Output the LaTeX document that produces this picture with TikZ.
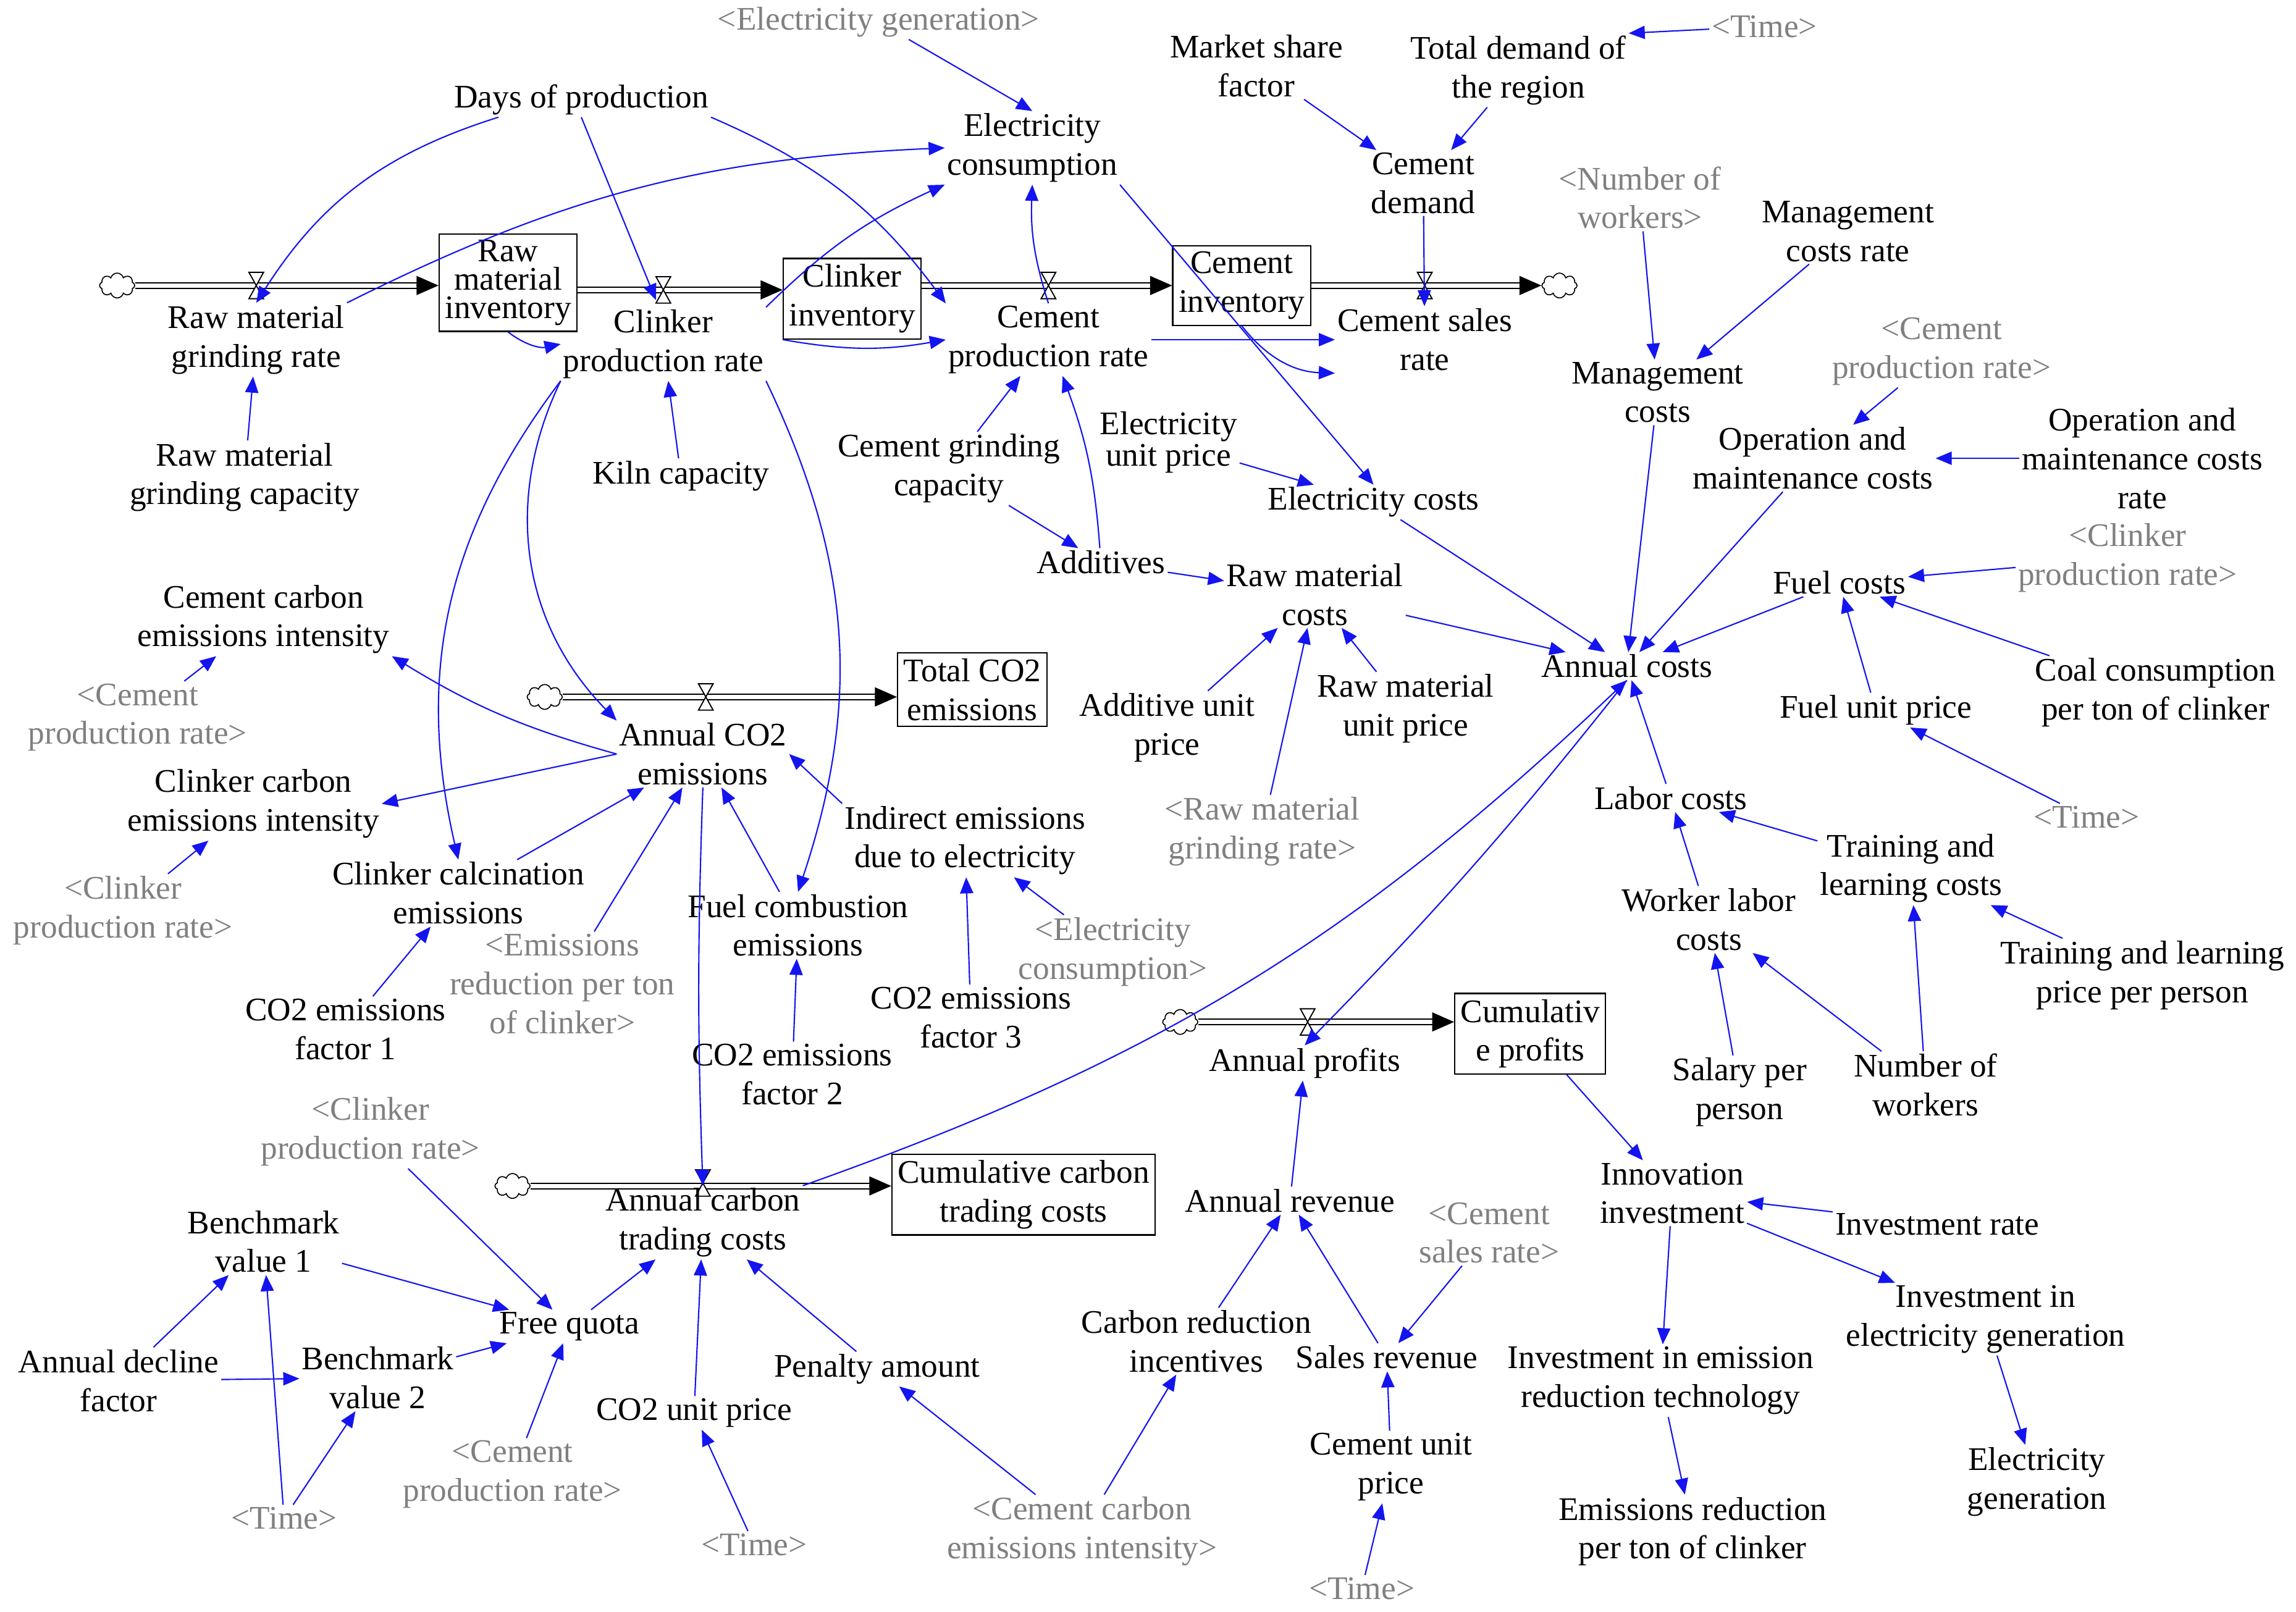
\documentclass[tikz,border=0pt]{standalone}
\usepackage{fontspec}
\setmainfont{Liberation Serif}
\usetikzlibrary{arrows.meta,shapes.symbols,calc}
\definecolor{vgray}{RGB}{128,128,128}
\definecolor{vblue}{RGB}{20,20,240}
\begin{document}
\begin{tikzpicture}[x=1pt,y=1pt,
  every node/.style={align=center,inner sep=1.5pt,font=\fontsize{22.5}{26.5}\selectfont},
  sh/.style={text=vgray},
  st/.style={draw,line width=0.9pt,inner sep=4pt},
  cl/.style={cloud,draw,cloud puffs=8,minimum width=24pt,minimum height=17pt,inner sep=0pt,line width=0.7pt},
  a/.style={draw=vblue,line width=0.9pt,-{Triangle[length=11pt,width=9pt]},fill=none},
  pipe/.style={double,double distance=3pt,line width=0.8pt,shorten >=13pt},
  tip/.style={-{Triangle[length=15pt,width=13pt]},line width=0.8pt},
  valve/.pic={\draw[fill=white,line width=0.8pt] (-5,9)--(5,9)--(-5,-9)--(5,-9)--cycle;}
]
\useasboundingbox (0,0) rectangle (1568,-1101);
% stocks
\node[st] (rmi) at (347,-193) {Raw\\[-7pt]material\\[-7pt]inventory};
\node[st] (ci) at (582,-204) {Clinker\\inventory};
\node[st] (cinv) at (848,-195) {Cement\\inventory};
\node[st] (tco2) at (664,-471) {Total CO2\\emissions};
\node[st] (cp) at (1045,-706) {Cumulativ\\e profits};
\node[st] (cctc) at (699,-816) {Cumulative carbon\\trading costs};
% clouds
\node[cl] (c1) at (80,-195) {};
\node[cl] (c4) at (1065,-195) {};
\node[cl] (c5) at (372,-476) {};
\node[cl] (c6) at (806,-698) {};
\node[cl] (c7) at (350,-810) {};
\coordinate (v2) at (448,-205);
% pipes
\draw[pipe] (c1) -- (rmi.west|-c1); \draw[tip] ($(rmi.west|-c1)+(-15,0)$) -- (rmi.west|-c1);
\draw[pipe] (rmi.east|-0,-198) -- (ci.west|-0,-198); \draw[tip] ($(ci.west|-0,-198)+(-15,0)$) -- (ci.west|-0,-198);
\draw[pipe] (ci.east|-0,-195) -- (cinv.west|-0,-195); \draw[tip] ($(cinv.west|-0,-195)+(-15,0)$) -- (cinv.west|-0,-195);
\draw[pipe] (cinv.east|-0,-195) -- (c4.west); \draw[tip] ($(c4.west)+(-15,0)$) -- (c4.west);
\draw[pipe] (c5) -- (tco2.west|-c5); \draw[tip] ($(tco2.west|-c5)+(-15,0)$) -- (tco2.west|-c5);
\draw[pipe] (c6) -- (cp.west|-c6); \draw[tip] ($(cp.west|-c6)+(-15,0)$) -- (cp.west|-c6);
\draw[pipe] (c7) -- (cctc.west|-c7); \draw[tip] ($(cctc.west|-c7)+(-15,0)$) -- (cctc.west|-c7);
\pic at (175,-195) {valve};
\pic at (453,-198) {valve};
\pic at (716,-195) {valve};
\pic at (973,-195) {valve};
\pic at (482,-476) {valve};
\pic at (893,-698) {valve};
\pic at (480,-808) {valve};
% variables
\node (dop) at (397,-68) {Days of production};
\node (ec) at (705,-101) {Electricity\\consumption};
\node[sh] (egg) at (600,-15) {<Electricity generation>};
\node (msf) at (858,-45) {Market share\\factor};
\node (tdr) at (1037,-48) {Total demand of\\the region};
\node[sh] (t1) at (1205,-18) {<Time>};
\node (cd) at (972,-125) {Cement\\demand};
\node[sh] (nowg) at (1120,-135) {<Number of\\workers>};
\node (mcr) at (1262,-158) {Management\\costs rate};
\node (rmgr) at (175,-232) {Raw material\\grinding rate};
\node (cpr) at (453,-235) {Clinker\\production rate};
\node (cepr) at (716,-232) {Cement\\production rate};
\node (csr) at (973,-232) {Cement sales\\rate};
\node (mc) at (1132,-268) {Management\\costs};
\node[sh] (cprg) at (1326,-240) {<Cement\\production rate>};
\node (rmgc) at (167,-326) {Raw material\\grinding capacity};
\node (kc) at (465,-325) {Kiln capacity};
\node (cgc) at (648,-320) {Cement grinding\\capacity};
\node (eup) at (798,-302) {Electricity\\[-5pt]unit price};
\node (omc) at (1238,-313) {Operation and\\maintenance costs};
\node (omcr) at (1463,-313) {Operation and\\maintenance costs\\rate};
\node (ecost) at (938,-343) {Electricity costs};
\node (add) at (752,-384) {Additives};
\node (rmc) at (898,-406) {Raw material\\costs};
\node (ccei) at (180,-423) {Cement carbon\\emissions intensity};
\node (fc) at (1256,-398) {Fuel costs};
\node[sh] (cprg2) at (1453,-381) {<Clinker\\production rate>};
\node (ac) at (1111,-455) {Annual costs};
\node[sh] (cprg3) at (94,-490) {<Cement\\production rate>};
\node (aco2) at (480,-515) {Annual CO2\\emissions};
\node (aup) at (797,-497) {Additive unit\\price};
\node (rmup) at (960,-484) {Raw material\\unit price};
\node (fup) at (1281,-485) {Fuel unit price};
\node (ccpt) at (1472,-473) {Coal consumption\\per ton of clinker};
\node (clcei) at (173,-549) {Clinker carbon\\emissions intensity};
\node (ied) at (659,-574) {Indirect emissions\\due to electricity};
\node (lc) at (1141,-545) {Labor costs};
\node[sh] (t2) at (1425,-558) {<Time>};
\node[sh] (rmgrg) at (862,-568) {<Raw material\\grinding rate>};
\node (tlc) at (1305,-593) {Training and\\learning costs};
\node (cce) at (313,-610) {Clinker calcination\\emissions};
\node[sh] (cprg4) at (84,-622) {<Clinker\\production rate>};
\node (fce) at (545,-632) {Fuel combustion\\emissions};
\node[sh] (ecg) at (760,-650) {<Electricity\\consumption>};
\node (wlc) at (1167,-628) {Worker labor\\costs};
\node (tlpp) at (1463,-666) {Training and learning\\price per person};
\node[sh] (erptg) at (384,-672) {<Emissions\\reduction per ton\\of clinker>};
\node (ef1) at (236,-703) {CO2 emissions\\factor 1};
\node (ef3) at (663,-695) {CO2 emissions\\factor 3};
\node (ap) at (891,-726) {Annual profits};
\node (spp) at (1188,-746) {Salary per\\person};
\node (now) at (1315,-741) {Number of\\workers};
\node (ef2) at (541,-734) {CO2 emissions\\factor 2};
\node[sh] (cprg5) at (253,-773) {<Clinker\\production rate>};
\node (actc) at (480,-835) {Annual carbon\\trading costs};
\node (ar) at (881,-820) {Annual revenue};
\node[sh] (csrg) at (1017,-842) {<Cement\\sales rate>};
\node (ii) at (1142,-815) {Innovation\\investment};
\node (bv1) at (180,-848) {Benchmark\\value 1};
\node (ir) at (1323,-836) {Investment rate};
\node (fq) at (389,-906) {Free quota};
\node (crii) at (817,-916) {Carbon reduction\\incentives};
\node (sr) at (947,-927) {Sales revenue};
\node (iieg) at (1356,-901) {Investment in\\electricity generation};
\node (adf) at (81,-943) {Annual decline\\factor};
\node (bv2) at (258,-941) {Benchmark\\value 2};
\node (pa) at (599,-935) {Penalty amount};
\node (iiert) at (1134,-943) {Investment in emission\\reduction technology};
\node (co2up) at (474,-965) {CO2 unit price};
\node[sh] (cprg6) at (350,-1007) {<Cement\\production rate>};
\node (cup) at (950,-1002) {Cement unit\\price};
\node (egen) at (1391,-1012) {Electricity\\generation};
\node[sh] (t3) at (194,-1037) {<Time>};
\node[sh] (t4) at (515,-1055) {<Time>};
\node[sh] (cceig) at (739,-1046) {<Cement carbon\\emissions intensity>};
\node (erpt) at (1156,-1046) {Emissions reduction\\per ton of clinker};
\node[sh] (t5) at (930,-1085) {<Time>};
% connectors
\draw[a] (dop) to[bend right=20] (rmgr.north);
\draw[a] (dop.south) -- (v2);
\draw[a] (dop.south east) to[bend left=15] (cepr.north west);
\draw[a] (rmgr.north east) to[bend left=12] (ec.west);
\draw[a] (cpr.north east) to[bend left=10] (ec.south west);
\draw[a] (cepr.north) to[bend left=10] (ec.south);
\draw[a] (egg) -- (ec.north);
\draw[a] (ec.south east) -- (ecost.north);
\draw[a] (msf) -- (cd);
\draw[a] (tdr) -- (cd);
\draw[a] (t1) -- (tdr.north east);
\draw[a] (cd) -- (csr);
\draw[a] (rmi.south) to[bend right=25] (cpr.west);
\draw[a] (ci.south west) to[bend right=10] (cepr.west);
\draw[a] (cinv.south) to[bend right=25] (csr.south west);
\draw[a] (cepr.east) -- (csr.west);
\draw[a] (rmgc) -- (rmgr);
\draw[a] (kc) -- (cpr);
\draw[a] (cgc) -- (cepr);
\draw[a] (add) to[bend right=8] (cepr);
\draw[a] (cgc) -- (add);
\draw[a] (eup) -- (ecost);
\draw[a] (add) -- (rmc);
\draw[a] (aup) -- (rmc);
\draw[a] (rmup) -- (rmc);
\draw[a] (rmgrg) -- (rmc);
\draw[a] (rmc) -- (ac);
\draw[a] (ecost) -- (ac);
\draw[a] (nowg) -- (mc);
\draw[a] (mcr) -- (mc);
\draw[a] (mc) -- (ac);
\draw[a] (cprg) -- (omc);
\draw[a] (omcr) -- (omc);
\draw[a] (omc) -- (ac);
\draw[a] (cprg2) -- (fc);
\draw[a] (fc) -- (ac);
\draw[a] (fup) -- (fc);
\draw[a] (ccpt) -- (fc);
\draw[a] (t2) -- (fup);
\draw[a] (lc) -- (ac);
\draw[a] (tlc) -- (lc);
\draw[a] (wlc) -- (lc);
\draw[a] (spp) -- (wlc);
\draw[a] (now) -- (wlc);
\draw[a] (now) -- (tlc);
\draw[a] (tlpp) -- (tlc);
\draw[a] (cpr.south west) to[bend right=35] (aco2.north west);
\draw[a] (cpr.south west) to[bend right=25] (cce.north);
\draw[a] (cpr.south east) to[bend left=22] (fce.north);
\draw[a] (aco2.west) to[bend left=8] (ccei.south east);
\draw[a] (aco2.west) -- (clcei.east);
\draw[a] (cprg3) -- (ccei);
\draw[a] (cprg4) -- (clcei);
\draw[a] (cce) -- (aco2);
\draw[a] (erptg) -- (aco2);
\draw[a] (fce) -- (aco2);
\draw[a] (ied.north west) -- (aco2.east);
\draw[a] (ef1) -- (cce);
\draw[a] (ef2) -- (fce);
\draw[a] (ef3) -- (ied);
\draw[a] (ecg) -- (ied);
\draw[a] (aco2.south) to[bend right=2] (actc.north);
\draw[a] (actc.north east) to[bend right=12] (ac.south);
\draw[a] (ac.south) to[bend left=3] (ap.north);
\draw[a] (ar) -- (ap);
\draw[a] (cp) -- (ii);
\draw[a] (ir) -- (ii);
\draw[a] (ii) -- (iieg);
\draw[a] (ii) -- (iiert);
\draw[a] (iiert) -- (erpt);
\draw[a] (iieg) -- (egen);
\draw[a] (crii) -- (ar);
\draw[a] (sr) -- (ar);
\draw[a] (csrg) -- (sr);
\draw[a] (cup) -- (sr);
\draw[a] (t5) -- (cup);
\draw[a] (cceig) -- (crii);
\draw[a] (cceig) -- (pa);
\draw[a] (pa) -- (actc);
\draw[a] (co2up) -- (actc);
\draw[a] (t4) -- (co2up);
\draw[a] (fq) -- (actc);
\draw[a] (cprg5) -- (fq);
\draw[a] (bv1) -- (fq);
\draw[a] (bv2) -- (fq);
\draw[a] (cprg6) -- (fq);
\draw[a] (adf) -- (bv1);
\draw[a] (adf) -- (bv2);
\draw[a] (t3) -- (bv1);
\draw[a] (t3) -- (bv2);
\end{tikzpicture}
\end{document}
